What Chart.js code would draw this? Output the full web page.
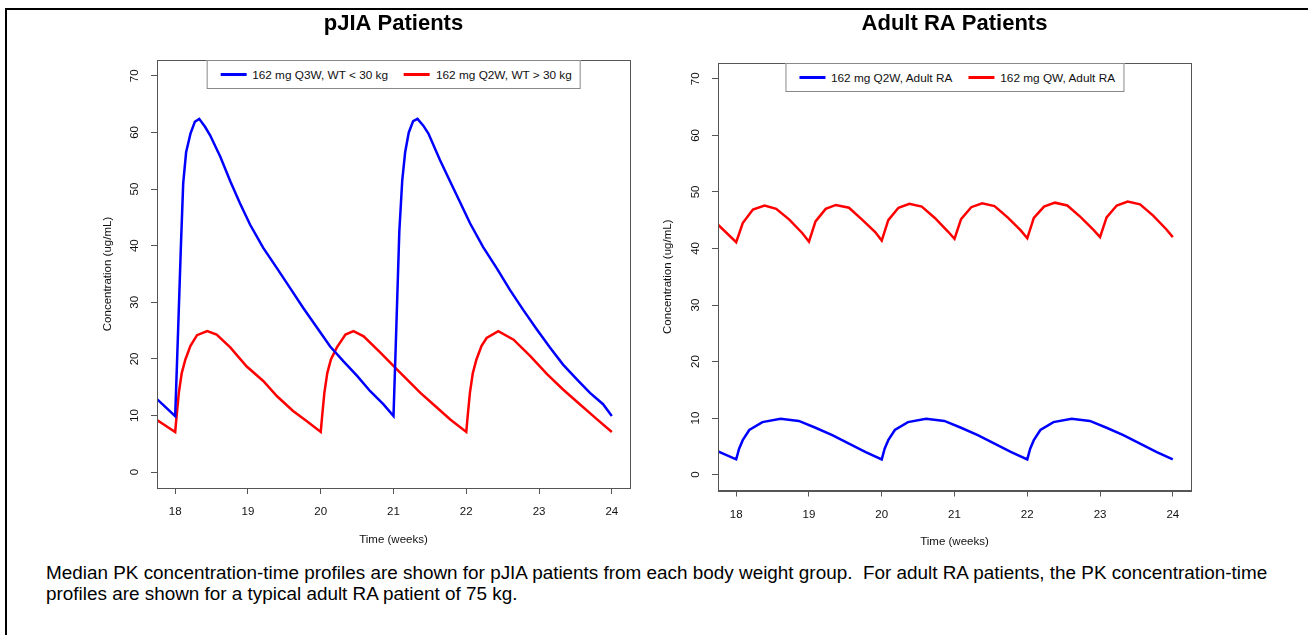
<!DOCTYPE html>
<html>
<head>
<meta charset="utf-8">
<script src="https://cdn.jsdelivr.net/npm/chart.js@4.4.0/dist/chart.umd.min.js"></script>
<style>
  body { margin: 0; background: #fff; width: 1308px; height: 635px; position: relative; overflow: hidden;
         font-family: "Liberation Sans", Arial, sans-serif; }
  .frame-top { position: absolute; left: 5px; top: 8px; width: 1303px; height: 2px; background: #000; }
  .frame-left { position: absolute; left: 5px; top: 8px; width: 2px; height: 627px; background: #000; }
  canvas { position: absolute; top: 0; }
  #chart-pjia { left: 0; }
  #chart-adult { left: 654px; }
  .legend { position: absolute; border: 1px solid #888; background: #fff; display: flex; align-items: center;
            height: 29px; box-sizing: border-box; padding: 0 8px 0 13px; font-size: 11.8px; color: #111;
            white-space: nowrap; transform: translateX(-50%); }
  .legend .item { display: flex; align-items: center; margin-right: 16px; }
  .legend .item:last-child { margin-right: 0; }
  .legend .swatch { width: 26px; height: 2.5px; margin-right: 6px; }
  .caption { position: absolute; left: 46px; top: 562px; font-size: 18.9px; line-height: 21px; color: #000; white-space: nowrap; }
</style>
</head>
<body>
<div class="frame-top"></div>
<div class="frame-left"></div>
<canvas id="chart-pjia" width="654" height="560"></canvas>
<canvas id="chart-adult" width="654" height="560"></canvas>
<div class="legend" id="legend-pjia"></div>
<div class="legend" id="legend-adult"></div>
<div class="caption">Median PK concentration-time profiles are shown for pJIA patients from each body weight group.&nbsp; For adult RA patients, the PK concentration-time<br>profiles are shown for a typical adult RA patient of 75 kg.</div>

<script>
const FONT = '"Liberation Sans", Arial, sans-serif';

// axis ticks
const weekTicks = [18, 19, 20, 21, 22, 23, 24];
const concTicks = [0, 10, 20, 30, 40, 50, 60, 70];

// pJIA, 162 mg Q3W, WT < 30 kg
const pjiaQ3wTime = [17.75, 18.0, 18.04, 18.08, 18.11, 18.15, 18.21, 18.27, 18.33, 18.41,
  18.48, 18.62, 18.76, 18.89, 19.03, 19.21, 19.40, 19.58, 19.76, 19.95,
  20.13, 20.31, 20.50, 20.68, 20.86, 21.0, 21.04, 21.08, 21.12, 21.16,
  21.21, 21.27, 21.33, 21.41, 21.48, 21.64, 21.78, 21.91, 22.05, 22.23,
  22.42, 22.60, 22.78, 22.97, 23.15, 23.33, 23.52, 23.70, 23.88, 24.0];
const pjiaQ3wConc = [12.9, 9.9, 25.0, 40.5, 51.0, 56.5, 59.8, 61.9, 62.4, 61.0,
  59.5, 55.7, 51.3, 47.5, 43.7, 39.6, 36.0, 32.5, 29.0, 25.5,
  22.2, 19.6, 17.0, 14.3, 12.0, 9.9, 26.0, 42.5, 51.5, 56.5,
  60.0, 62.0, 62.4, 61.2, 59.8, 55.1, 51.3, 47.8, 44.0, 39.8,
  36.0, 32.2, 28.7, 25.2, 22.0, 19.0, 16.4, 14.0, 12.0, 9.9];

// pJIA, 162 mg Q2W, WT > 30 kg
const pjiaQ2wTime = [17.75, 18.0, 18.02, 18.05, 18.09, 18.14, 18.21, 18.30, 18.44, 18.57,
  18.76, 18.98, 19.21, 19.40, 19.62, 19.81, 20.0, 20.02, 20.05, 20.09,
  20.14, 20.22, 20.34, 20.45, 20.59, 20.82, 21.05, 21.37, 21.58, 21.78,
  22.0, 22.02, 22.05, 22.09, 22.14, 22.21, 22.28, 22.44, 22.65, 22.88,
  23.11, 23.33, 23.56, 23.79, 24.0];
const pjiaQ2wConc = [9.2, 7.1, 10.0, 14.0, 17.5, 19.9, 22.3, 24.2, 24.9, 24.3,
  22.0, 18.7, 16.1, 13.4, 10.8, 9.0, 7.1, 10.0, 14.0, 17.5,
  19.9, 22.0, 24.3, 24.9, 24.0, 21.1, 18.1, 14.0, 11.6, 9.3,
  7.1, 10.0, 14.0, 17.5, 19.9, 22.3, 23.7, 24.9, 23.4, 20.5,
  17.3, 14.6, 12.0, 9.4, 7.1];

// adult RA, 162 mg Q2W
const adultQ2wTime = [17.75, 18.0, 18.04, 18.09, 18.18, 18.36, 18.61, 18.86, 19.09, 19.32, 19.55, 19.78,
  20.0, 20.04, 20.09, 20.18, 20.36, 20.61, 20.86, 21.09, 21.32, 21.55, 21.78,
  22.0, 22.04, 22.09, 22.18, 22.36, 22.61, 22.86, 23.09, 23.32, 23.55, 23.78, 24.0];
const adultQ2wConc = [4.1, 2.7, 4.6, 6.1, 7.9, 9.3, 9.9, 9.5, 8.3, 7.0, 5.5, 4.0,
  2.7, 4.6, 6.1, 7.9, 9.3, 9.9, 9.5, 8.3, 7.0, 5.5, 4.0,
  2.7, 4.6, 6.1, 7.9, 9.3, 9.9, 9.5, 8.3, 7.0, 5.5, 4.0, 2.7];

// adult RA, 162 mg QW
const adultQwTime = [17.75, 18.0,
  18.09, 18.23, 18.39, 18.55, 18.73, 18.91, 19.0,
  19.09, 19.23, 19.37, 19.55, 19.73, 19.91, 20.0,
  20.09, 20.23, 20.38, 20.55, 20.73, 20.91, 21.0,
  21.09, 21.23, 21.38, 21.55, 21.73, 21.91, 22.0,
  22.09, 22.23, 22.38, 22.55, 22.73, 22.91, 23.0,
  23.09, 23.23, 23.38, 23.55, 23.73, 23.91, 24.0];
const adultQwConc = [44.2, 41.1,
  44.5, 46.9, 47.6, 47.0, 45.1, 42.7, 41.2,
  44.8, 47.0, 47.7, 47.2, 45.1, 42.9, 41.4,
  45.0, 47.2, 47.9, 47.4, 45.4, 43.0, 41.7,
  45.2, 47.3, 48.0, 47.5, 45.5, 43.2, 41.8,
  45.4, 47.4, 48.1, 47.6, 45.6, 43.3, 42.0,
  45.5, 47.6, 48.3, 47.8, 45.8, 43.4, 42.0];

const pts = (t, c) => t.map((x, i) => ({ x: x, y: c[i] }));

function line(label, color, t, c) {
  return { label: label, data: pts(t, c), borderColor: color, backgroundColor: color };
}

// frame around the plotting region
const plotBox = {
  id: 'plotBox',
  afterDatasetsDraw(chart) {
    const { ctx, chartArea: a } = chart;
    const l = Math.round(a.left) + 0.5, t = Math.round(a.top) + 0.5;
    const r = Math.round(a.right) + 0.5, b = Math.round(a.bottom) + 0.5;
    ctx.save();
    ctx.strokeStyle = '#555';
    ctx.lineWidth = 1;
    ctx.strokeRect(l, t, r - l, b - t);
    ctx.restore();
  }
};

// legend as a boxed html strip at the top of the plot
const htmlLegend = {
  id: 'htmlLegend',
  afterUpdate(chart, args, opts) {
    const el = document.getElementById(opts.containerID);
    el.innerHTML = '';
    chart.data.datasets.forEach(ds => {
      const item = document.createElement('div');
      item.className = 'item';
      const sw = document.createElement('span');
      sw.className = 'swatch';
      sw.style.background = ds.borderColor;
      const txt = document.createElement('span');
      txt.textContent = ds.label;
      item.appendChild(sw);
      item.appendChild(txt);
      el.appendChild(item);
    });
    const a = chart.chartArea;
    el.style.left = (chart.canvas.offsetLeft + (a.left + a.right) / 2) + 'px';
    el.style.top = (chart.canvas.offsetTop + a.top) + 'px';
  }
};

function pkConfig(title, datasets, legendId, pad, titlePad, xHeight, yWidth) {
  const tickFont = { size: 11.5, family: FONT };
  return {
    type: 'line',
    data: { datasets: datasets },
    options: {
      responsive: false,
      animation: false,
      layout: { padding: pad },
      elements: { point: { radius: 0 }, line: { borderWidth: 2.5, tension: 0 } },
      plugins: {
        legend: { display: false },
        tooltip: { enabled: false },
        title: { display: true, text: title, fullSize: false, color: '#000',
                 font: { size: 22, weight: 'bold', family: FONT }, padding: titlePad },
        htmlLegend: { containerID: legendId }
      },
      scales: {
        x: {
          type: 'linear', min: 17.75, max: 24.25,
          afterBuildTicks: s => { s.ticks = weekTicks.map(v => ({ value: v })); },
          afterFit: s => { s.height = xHeight; },
          ticks: { color: '#111', font: tickFont, padding: 11, maxRotation: 0 },
          grid: { drawOnChartArea: false, tickLength: 6, color: '#555' },
          border: { color: '#555' },
          title: { display: true, text: 'Time (weeks)', color: '#111', font: tickFont, padding: 0 }
        },
        y: {
          type: 'linear', min: -2.8, max: 72.8,
          afterBuildTicks: s => { s.ticks = concTicks.map(v => ({ value: v })); },
          afterFit: s => { s.width = yWidth; },
          ticks: { color: '#111', font: tickFont, padding: 10, minRotation: 90, maxRotation: 90, crossAlign: 'center' },
          grid: { drawOnChartArea: false, tickLength: 6, color: '#555' },
          border: { color: '#555' },
          title: { display: true, text: 'Concentration (ug/mL)', color: '#111', font: tickFont, padding: 0 }
        }
      }
    },
    plugins: [plotBox, htmlLegend]
  };
}

new Chart(document.querySelector('#chart-pjia'), pkConfig('pJIA Patients', [
  line('162 mg Q3W, WT < 30 kg', '#0000FF', pjiaQ3wTime, pjiaQ3wConc),
  line('162 mg Q2W, WT > 30 kg', '#FF0000', pjiaQ2wTime, pjiaQ2wConc)
], 'legend-pjia', { left: 101, right: 24, top: 0, bottom: 13 }, { top: 10.8, bottom: 22.8 }, 59, 56));

new Chart(document.querySelector('#chart-adult'), pkConfig('Adult RA Patients', [
  line('162 mg Q2W, Adult RA', '#0000FF', adultQ2wTime, adultQ2wConc),
  line('162 mg QW, Adult RA', '#FF0000', adultQwTime, adultQwConc)
], 'legend-adult', { left: 7, right: 117, top: 0, bottom: 11 }, { top: 10.8, bottom: 25.8 }, 58.5, 57));
</script>
</body>
</html>
